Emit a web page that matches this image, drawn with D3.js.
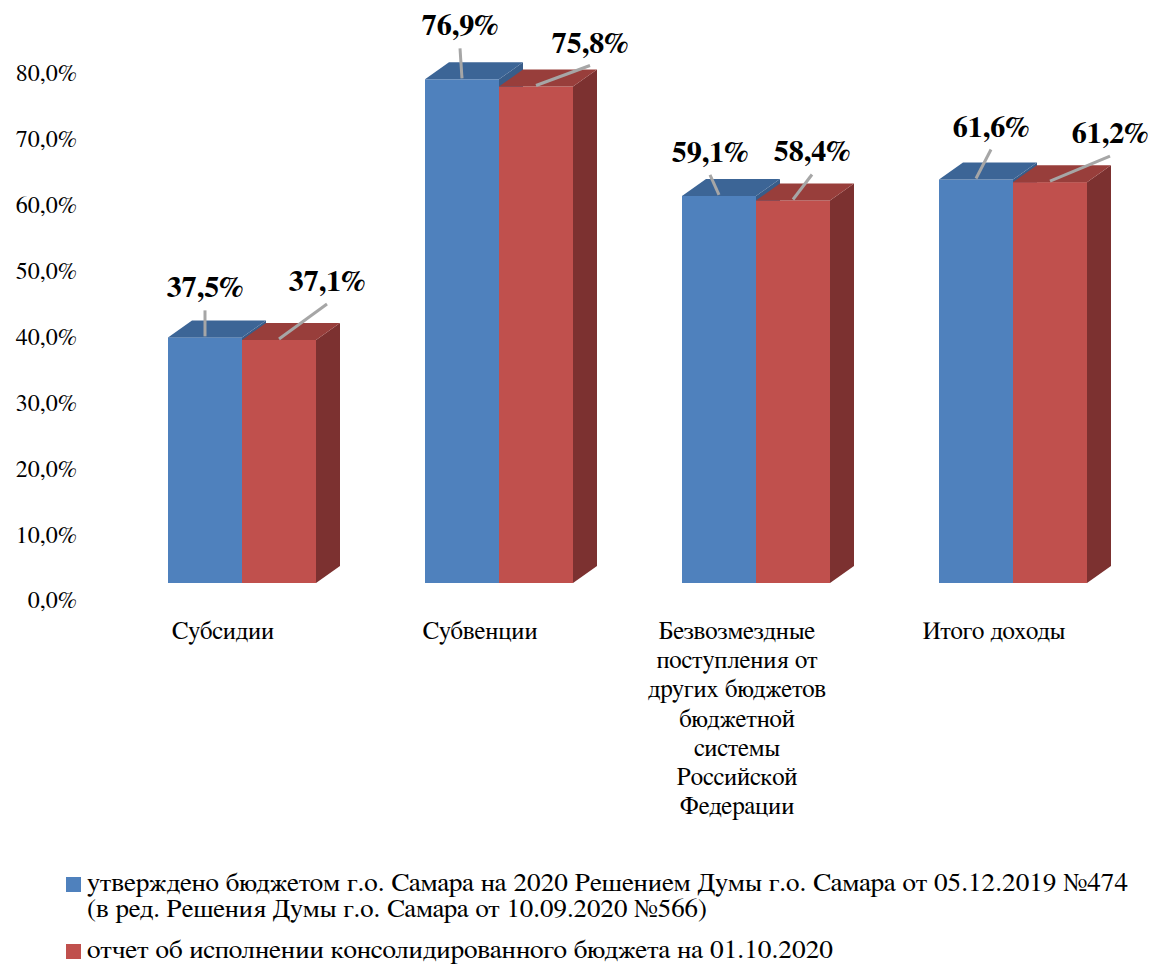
<!DOCTYPE html>
<html><head><meta charset="utf-8">
<script src="https://cdn.jsdelivr.net/npm/d3@7"></script>
</head><body style="margin:0;background:#fff">
<svg id="chart" width="1157" height="970"></svg>
<script>
// ---- data ----
const categories = ["Субсидии", "Субвенции", "Безвозмездные поступления от других бюджетов бюджетной системы Российской Федерации", "Итого доходы"];
const categoryLines = [
  ["Субсидии"],
  ["Субвенции"],
  ["Безвозмездные", "поступления от", "других бюджетов", "бюджетной", "системы", "Российской", "Федерации"],
  ["Итого доходы"]
];
const seriesNames = ["утверждено", "отчет"];
const approvedValues = [37.5, 76.9, 59.1, 61.6];
const reportValues = [37.1, 75.8, 58.4, 61.2];
const tickValues = [0, 10, 20, 30, 40, 50, 60, 70, 80];
const legendLines = [
  ["утверждено бюджетом г.о. Самара на 2020 Решением Думы г.о. Самара от 05.12.2019 №474", "(в ред. Решения Думы г.о. Самара от 10.09.2020 №566)"],
  ["отчет об исполнении консолидированного бюджета на 01.10.2020"]
];

// ---- layout / style ----
const colors = {
  front: ["#4f81bd", "#c0504d"],
  top: ["#3c6596", "#983e3b"],
  side: ["#385d8a", "#7c3130"]
};
const depth = {dx: 24, dy: -17};
const labelOffsets = [
  [[0, -40], [48, -49]],
  [[-2, -44], [54, -34]],
  [[-9, -34], [19, -39]],
  [[15, -43], [60, -39]]
];
const legendWidths = [[1041, 620], [746]];

const svg = d3.select("#chart");
const FONT = "FreeSerif, 'Noto Serif', 'DejaVu Serif', serif";

const x0 = d3.scaleBand().domain(categories).range([168, 1087]).paddingInner(109 / 257).paddingOuter(0);
const x1 = d3.scaleBand().domain(seriesNames).range([0, x0.bandwidth()]).padding(0);
const yBar = d3.scaleLinear().domain([0, 80]).range([583, 583 - 80 * 6.55]);
const yAxis = d3.scaleLinear().domain([0, 80]).range([600, 73]);

const fmt = v => d3.format(".1f")(v).replace(".", ",") + "%";

function addText(parent) {
  return parent.append("text").style("font-family", FONT).attr("fill", "#000");
}

// y axis labels
const ag = svg.append("g");
tickValues.forEach(v => {
  addText(ag).attr("x", 77).attr("y", yAxis(v)).attr("dy", "0.35em")
    .attr("text-anchor", "end").style("font-size", "24px").text(fmt(v));
});

// bars
const seriesData = [approvedValues, reportValues];
const bars = [];
categories.forEach((c, ci) => {
  seriesData.forEach((vals, si) => {
    bars.push({cat: c, ci, si, v: vals[ci]});
  });
});

const barG = svg.append("g");
bars.forEach(b => {
  const xl = x0(b.cat) + x1(seriesNames[b.si]);
  const xr = xl + x1.bandwidth();
  const yt = yBar(b.v), yb = yBar(0);
  const g = barG.append("g");
  g.append("path")
    .attr("d", `M${xr},${yt}L${xr + depth.dx},${yt + depth.dy}L${xr + depth.dx},${yb + depth.dy}L${xr},${yb}Z`)
    .attr("fill", colors.side[b.si]);
  g.append("rect").attr("x", xl).attr("y", yt).attr("width", xr - xl).attr("height", yb - yt)
    .attr("fill", colors.front[b.si]);
  g.append("path")
    .attr("d", `M${xl},${yt}L${xl + depth.dx},${yt + depth.dy}L${xr + depth.dx},${yt + depth.dy}L${xr},${yt}Z`)
    .attr("fill", colors.top[b.si]);
});

// data labels with leader lines
const lblG = svg.append("g");
bars.forEach(b => {
  const cx = x0(b.cat) + x1(seriesNames[b.si]) + x1.bandwidth() / 2;
  const yt = yBar(b.v);
  const off = labelOffsets[b.ci][b.si];
  const lx = cx + off[0], ly = yt + off[1];
  lblG.append("line")
    .attr("x1", cx).attr("y1", yt - 1)
    .attr("x2", lx).attr("y2", ly + 13)
    .attr("stroke", "#a6a6a6").attr("stroke-width", 3);
  addText(lblG)
    .attr("x", lx).attr("y", ly)
    .attr("text-anchor", "middle")
    .style("font-weight", "bold").style("font-size", "30px")
    .text(fmt(b.v));
});

// category labels
const catG = svg.append("g");
categories.forEach((c, ci) => {
  const cx = x0(c) + x0.bandwidth() / 2 - 19;
  categoryLines[ci].forEach((ln, li) => {
    addText(catG).attr("x", cx).attr("y", 639 + li * 29.2)
      .attr("text-anchor", "middle").style("font-size", "25px").text(ln);
  });
});

// legend
const legG = svg.append("g");
const legTops = [877, 944];
legendLines.forEach((lines, si) => {
  legG.append("rect").attr("x", 66).attr("y", legTops[si]).attr("width", 15).attr("height", 15)
    .attr("fill", colors.front[si]);
  lines.forEach((ln, li) => {
    addText(legG)
      .attr("x", 87).attr("y", legTops[si] + 14 + li * 26)
      .style("font-size", "25px")
      .attr("textLength", legendWidths[si][li]).attr("lengthAdjust", "spacingAndGlyphs")
      .text(ln);
  });
});
</script>
</body></html>
